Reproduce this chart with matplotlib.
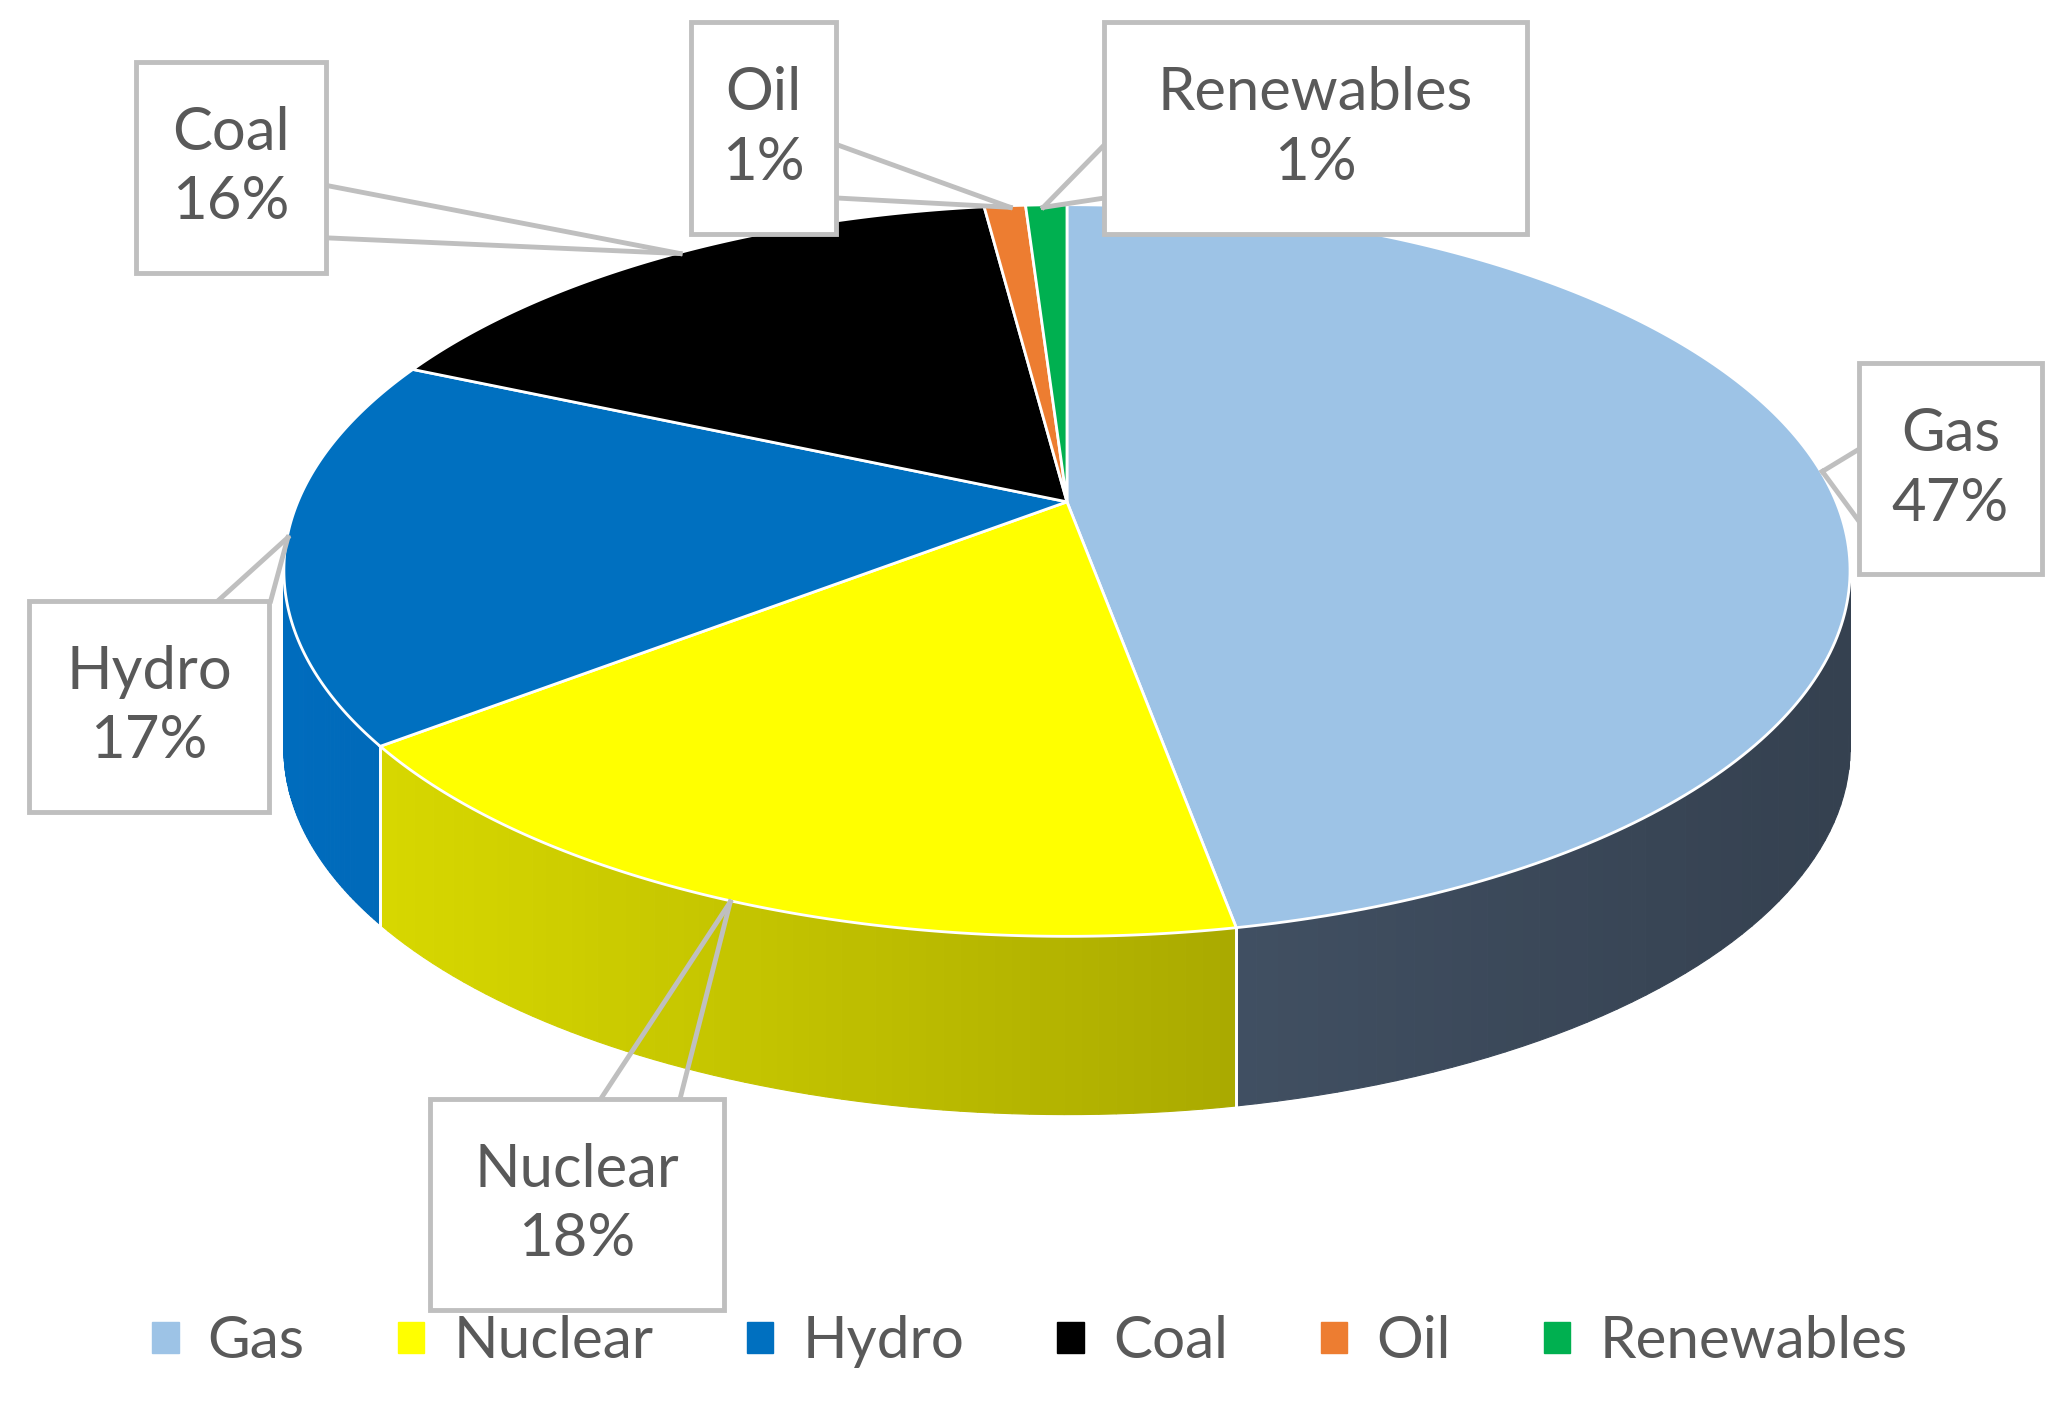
import numpy as np
import matplotlib.pyplot as plt
from matplotlib.patches import Polygon, FancyBboxPatch, Patch
from matplotlib.colors import to_rgb

# data
sources = ["Gas", "Nuclear", "Hydro", "Coal", "Oil", "Renewables"]
shares = [47, 18, 17, 16, 1, 1]
top_colors = ["#9DC3E6", "#FFFF00", "#0070C0", "#000000", "#ED7D31", "#00B050"]
side_colors = ["#46566A", "#B8B800", "#005A9E", "#111111", "#B05A20", "#008040"]

fig = plt.figure(figsize=(20.6, 14.21), dpi=100)
ax = fig.add_axes([0, 0, 1, 1])
ax.set_xlim(0, 1560)
ax.set_ylim(1076, 0)
ax.axis("off")

# pie geometry (display coords)
cx, cy = 808, 432
a, b = 593, 277
apex = (808, 380)
depth = 135


def warp(t):
    # rough perspective: left side drawn a bit rotated
    return t + 9 * np.cos(np.radians(t))


def pt(t):
    t = warp(t)
    return cx + a * np.cos(np.radians(t)), cy - b * np.sin(np.radians(t))


# angles clockwise from top
fr = np.array(shares) / sum(shares)
ends = 90 - 360 * np.cumsum(fr)
starts = np.concatenate([[90], ends[:-1]])

# side walls for the front half
for s, e, col in zip(starts, ends, side_colors):
    lo, hi = e, s
    for shift in (0, -360):
        l2, h2 = max(lo + shift, -171), min(hi + shift, 0)
        if h2 <= l2:
            continue
        ts = np.linspace(h2, l2, 60)
        base = np.array(to_rgb(col))
        for i in range(len(ts) - 1):
            x0, y0 = pt(ts[i])
            x1, y1 = pt(ts[i + 1])
            f = 0.75 + 0.45 * (1 - (x0 - (cx - a)) / (2 * a))
            c = np.clip(base * f, 0, 1)
            ax.add_patch(Polygon([(x0, y0), (x1, y1), (x1, y1 + depth), (x0, y0 + depth)],
                                 closed=True, fc=c, ec=c, lw=0.8))
        for t in (l2, h2):
            if -171 < t < 0:
                x, y = pt(t)
                ax.plot([x, x], [y, y + depth], color="white", lw=2)

# top faces
for s, e, col in zip(starts, ends, top_colors):
    ts = np.linspace(s, e, 200)
    pts = [apex] + [pt(t) for t in ts]
    ax.add_patch(Polygon(pts, closed=True, fc=col, ec="white", lw=2))

# labels with callouts
label_pos = [(1477, 355), (437, 912), (113, 535), (175, 127), (578, 97), (996, 97)]
box_size = [(138, 160), (222, 160), (182, 160), (144, 160), (110, 160), (320, 160)]
anchors = [(1380, 357), (553, 683), (218, 407), (515, 192), (765, 157), (790, 157)]
roots = [[(1408, 395), (1408, 340)], [(455, 832), (515, 832)], [(165, 455), (205, 455)],
         [(245, 140), (245, 180)], [(635, 110), (635, 150)], [(836, 110), (836, 150)]]
gray = "#BFBFBF"
for name, v, (x, y), (w, h), anc, rt in zip(sources, shares, label_pos, box_size, anchors, roots):
    for r in rt:
        ax.plot([r[0], anc[0]], [r[1], anc[1]], color=gray, lw=3.5, zorder=3)
    ax.add_patch(FancyBboxPatch((x - w / 2, y - h / 2), w, h, boxstyle="square,pad=0",
                                fc="white", ec=gray, lw=3.5, zorder=4))
    ax.text(x, y, f"{name}\n{v}%", ha="center", va="center", fontsize=43,
            color="#595959", family="Lato", linespacing=1.35, zorder=5)

handles = [Patch(color=c) for c in top_colors]
fig.legend(handles, sources, loc="lower center", ncol=6, frameon=False,
           bbox_to_anchor=(0.5, 0.0), handlelength=0.45, handleheight=0.45,
           handletextpad=0.5, columnspacing=1.6, labelcolor="#595959",
           prop={"family": "Lato", "size": 42})

fig.savefig("out.png", dpi=100)
